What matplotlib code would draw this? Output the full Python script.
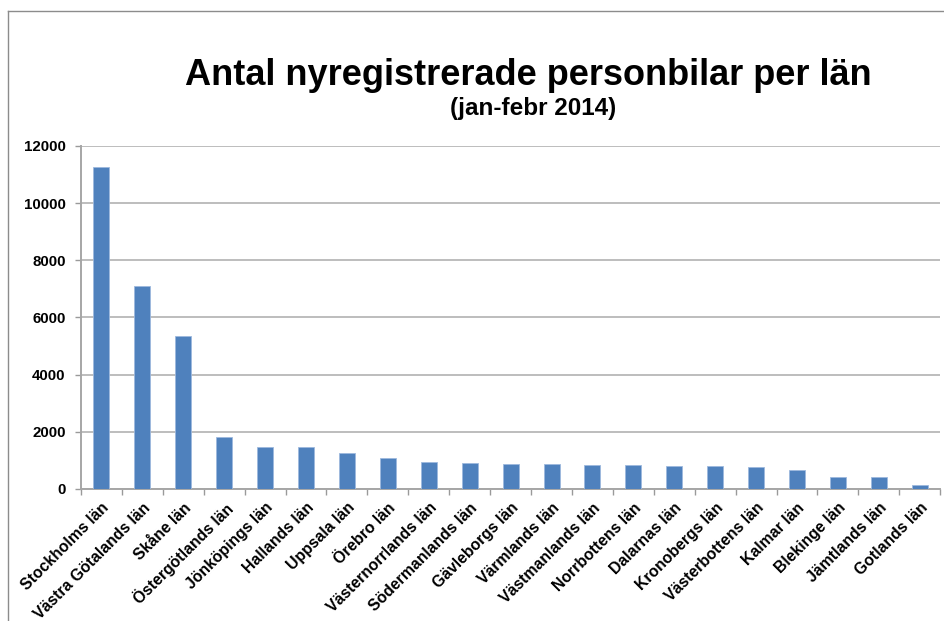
import numpy as np
import matplotlib.pyplot as plt
from matplotlib.lines import Line2D

plt.rcParams['font.family'] = ['Liberation Sans', 'DejaVu Sans']

# data
lan = ["Stockholms län", "Västra Götalands län", "Skåne län", "Östergötlands län",
       "Jönköpings län", "Hallands län", "Uppsala län", "Örebro län",
       "Västernorrlands län", "Södermanlands län", "Gävleborgs län", "Värmlands län",
       "Västmanlands län", "Norrbottens län", "Dalarnas län", "Kronobergs län",
       "Västerbottens län", "Kalmar län", "Blekinge län", "Jämtlands län", "Gotlands län"]
antal = [11280, 7090, 5365, 1815, 1476, 1466, 1245, 1094,
         942, 919, 884, 861, 849, 832, 814, 791,
         768, 652, 419, 407, 151]
yticks = [0, 2000, 4000, 6000, 8000, 10000, 12000]

fig = plt.figure(figsize=(9.44, 6.21), dpi=100)
ax = fig.add_axes([0.0858, 0.2126, 0.9102, 0.5523])

x = np.arange(len(lan))
ax.bar(x, antal, width=0.39, color='#4F81BD', edgecolor='#9DB9DE', linewidth=0.6, zorder=3)

ax.set_xlim(-0.5, len(lan) - 0.5)
ax.set_ylim(0, 12000)
ax.set_yticks(yticks)
ax.set_yticklabels([str(v) for v in yticks], fontsize=10.8, fontweight='bold')
ax.yaxis.grid(True, color='#BDBDBD', linewidth=1.4, zorder=0)

ax.set_xticks(x)
ax.set_xticklabels(lan, rotation=45, ha='right', rotation_mode='anchor',
                   fontsize=11.3, fontweight='bold')
ax.set_xticks(np.arange(len(lan) + 1) - 0.5, minor=True)
ax.tick_params(axis='x', which='major', length=0, pad=8)
ax.tick_params(axis='x', which='minor', length=4, color='#9A9A9A', width=1)
ax.tick_params(axis='y', length=4, color='#9A9A9A', width=1, pad=7)

for s in ['top', 'right']:
    ax.spines[s].set_visible(False)
for s in ['left', 'bottom']:
    ax.spines[s].set_color('#A6A6A6')
    ax.spines[s].set_linewidth(1.4)

fig.text(0.560, 0.878, "Antal nyregistrerade personbilar per län", ha='center', va='center',
         fontsize=26, fontweight='bold')
fig.text(0.565, 0.825, "(jan-febr 2014)", ha='center', va='center',
         fontsize=17.5, fontweight='bold')

# outer chart border
fig.add_artist(Line2D([8 / 944, 8 / 944], [0, 1 - 11 / 621], transform=fig.transFigure,
                      color='#8C8C8C', linewidth=1))
fig.add_artist(Line2D([8 / 944, 1], [1 - 11 / 621, 1 - 11 / 621], transform=fig.transFigure,
                      color='#8C8C8C', linewidth=1))

fig.savefig('out.png', dpi=100)
